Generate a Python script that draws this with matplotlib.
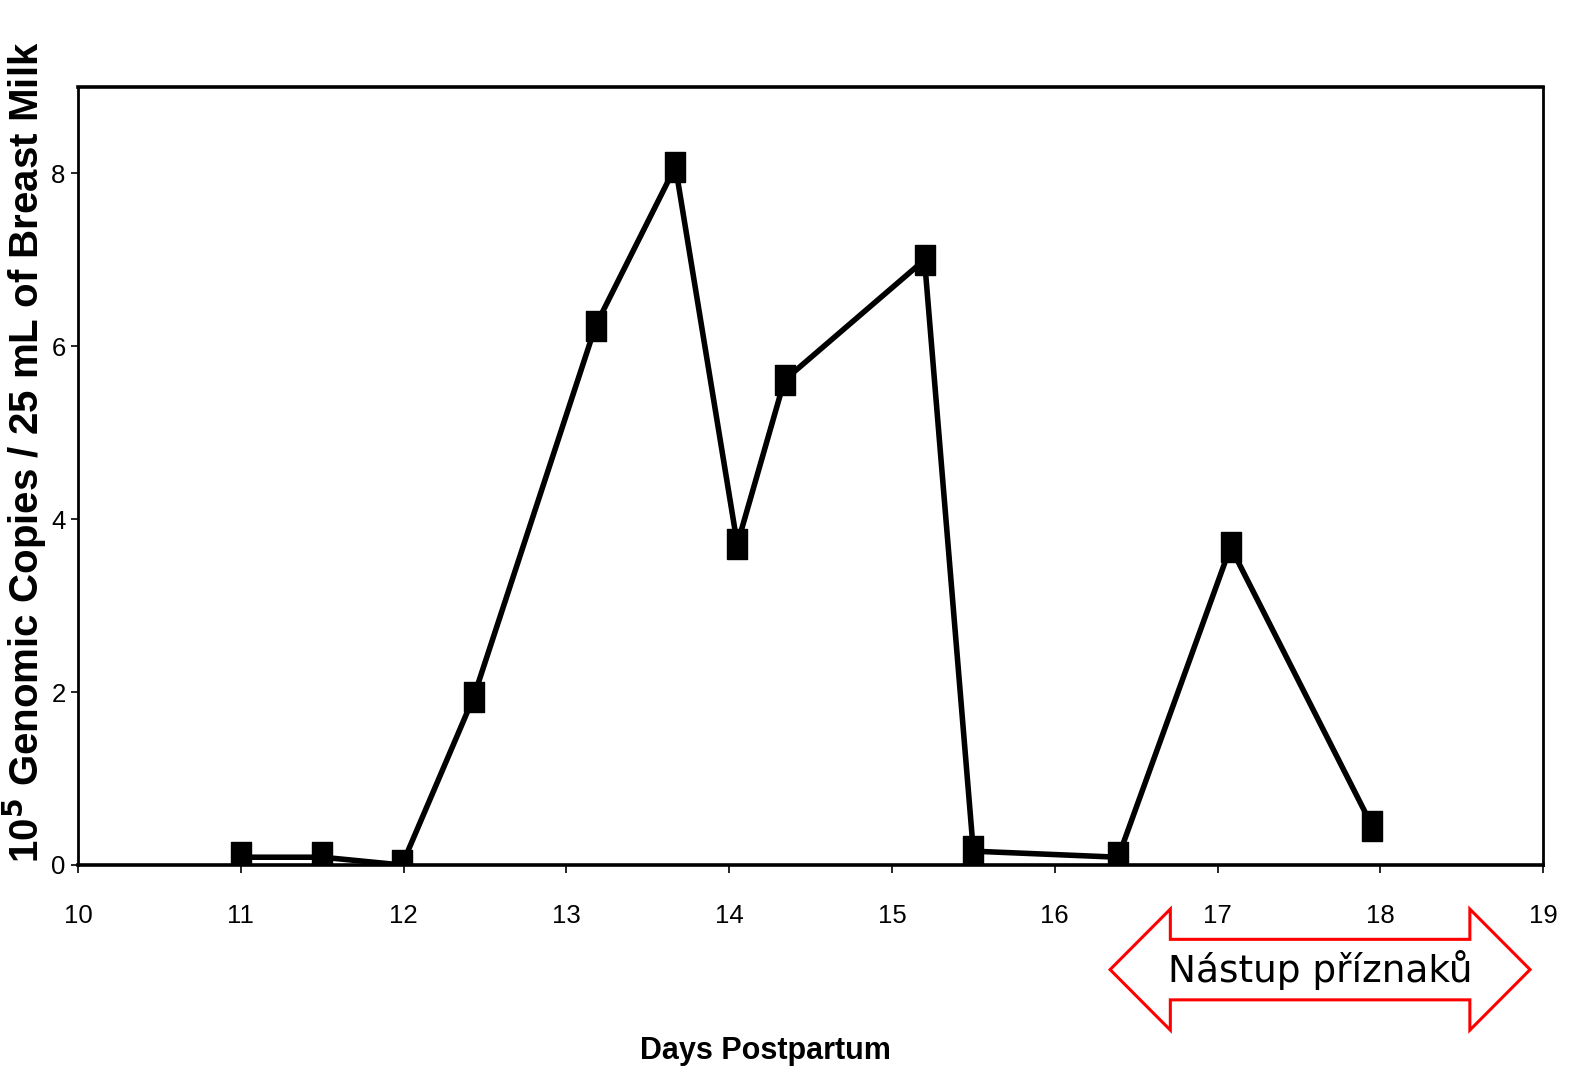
import matplotlib
matplotlib.use('Agg')
import matplotlib.pyplot as plt
from matplotlib.patches import Polygon

# data
days = [11.0, 11.5, 11.99, 12.43, 13.18, 13.67, 14.05, 14.34, 15.2, 15.5, 16.39, 17.08, 17.95]
copies = [0.09, 0.09, 0.0, 1.94, 6.24, 8.08, 3.71, 5.61, 7.0, 0.16, 0.09, 3.68, 0.45]
xticks = list(range(10, 20))
yticks = [0, 2, 4, 6, 8]
onset_label = 'Nástup příznaků'

SANS = ['Liberation Sans', 'DejaVu Sans']

fig = plt.figure(figsize=(15.73, 10.74), dpi=100)
ax = fig.add_axes([0.0496, 0.1946, 0.9314, 0.7244])

# tall rectangular square marker (original scan is stretched vertically)
box = [(-0.68, -1), (0.68, -1), (0.68, 1), (-0.68, 1), (-0.68, -1)]
ax.plot(days, copies, color='black', lw=4, marker=box, markersize=21,
        markerfacecolor='black', markeredgecolor='black', solid_joinstyle='miter')

ax.set_xlim(10, 19)
ax.set_ylim(0, 9)
ax.set_xticks(xticks)
ax.set_yticks(yticks)
for sp in ax.spines.values():
    sp.set_linewidth(2)
ax.spines['top'].set_linewidth(2.6)
ax.spines['bottom'].set_linewidth(2.6)
ax.tick_params(axis='x', direction='out', length=6, width=1.2, pad=22)
ax.tick_params(axis='y', direction='out', length=5, width=1.2, pad=4)
for lab in ax.get_xticklabels() + ax.get_yticklabels():
    lab.set_family(SANS)
    lab.set_fontsize(18.5)

ax.set_xlabel('Days Postpartum', family=SANS, fontsize=22, fontweight='bold')
ax.xaxis.set_label_coords(0.469, -0.22)
fig.text(0.016, 0.579, r'10$^{\mathbf{5}}$ Genomic Copies / 25 mL of Breast Milk',
         rotation=90, ha='center', va='center', fontsize=29, fontweight='bold',
         family=SANS)

# double-headed outline arrow for symptom onset
x0, x1 = 16.34, 18.92      # arrow tips
h0, h1 = 16.71, 18.55      # head bases
yc = -1.21
shaft, head = 0.35, 0.70
arrow = [(x0, yc), (h0, yc + head), (h0, yc + shaft), (h1, yc + shaft), (h1, yc + head),
         (x1, yc), (h1, yc - head), (h1, yc - shaft), (h0, yc - shaft), (h0, yc - head)]
ax.add_patch(Polygon(arrow, closed=True, facecolor='white', edgecolor='#ff0000',
                     lw=2.2, clip_on=False, joinstyle='miter'))
ax.text((h0 + h1) / 2, yc, onset_label, ha='center', va='center', fontsize=27,
        family='DejaVu Sans', clip_on=False)

fig.savefig('out.png', dpi=100)
